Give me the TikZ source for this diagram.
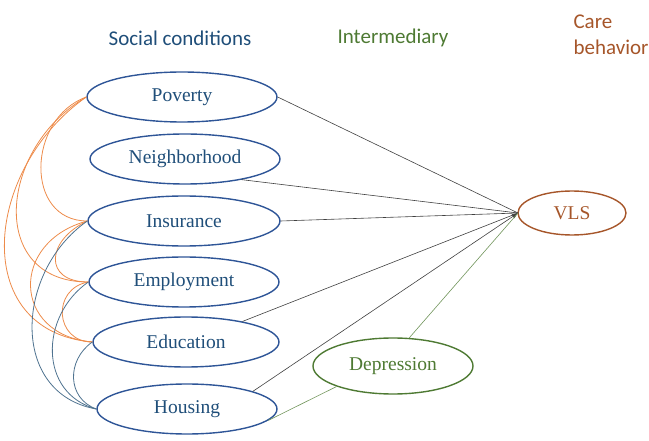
\documentclass[tikz,border=0pt]{standalone}
\usepackage{fontspec}
\usetikzlibrary{shapes.geometric,arrows.meta}
\setmainfont{Liberation Serif}
\newfontfamily\hdr{Carlito}
\definecolor{sblue}{HTML}{2E5597}
\definecolor{tblue}{HTML}{1F4E79}
\definecolor{sgreen}{HTML}{4E7A33}
\definecolor{sbrown}{HTML}{A6562A}
\definecolor{sorange}{HTML}{ED8B4A}
\definecolor{sgray}{HTML}{4F7390}
\begin{document}
\begin{tikzpicture}[x=1pt,y=-1pt,
  soc/.style={draw=sblue,line width=1.4pt,ellipse,minimum width=190pt,minimum height=50pt,inner sep=0pt,text=tblue,font=\fontsize{19.5}{23}\selectfont},
  hd/.style={font=\hdr\fontsize{21}{26}\selectfont,align=left},
  ln/.style={draw=black!75,line width=0.6pt},
  oc/.style={draw=sorange,line width=0.8pt},
  gc/.style={draw=sgray,line width=0.8pt}]
\useasboundingbox (0,0) rectangle (649,441);
\node[hd,text=tblue] (h1) at (180,38) {Social conditions};
\node[hd,text=sgreen] (h2) at (393,38) {Intermediary};
\node[hd,text=sbrown,anchor=west] (h3) at (570,35) {Care\\behavior};
\node[soc] (pov) at (182,97) {Poverty};
\node[soc] (nei) at (185,159) {Neighborhood};
\node[soc,minimum width=192pt] (ins) at (184,221) {Insurance};
\node[soc] (emp) at (184,282) {Employment};
\node[soc,minimum width=186pt] (edu) at (186,342) {Education};
\node[soc,minimum width=180pt] (hou) at (187,409) {Housing};
\node[draw=sbrown,line width=1.4pt,ellipse,minimum width=108pt,minimum height=44pt,text=sbrown,font=\fontsize{19.5}{23}\selectfont] (vls) at (572,213) {VLS};
\node[draw=sgreen,line width=1.4pt,ellipse,minimum width=160pt,minimum height=56pt,text=sgreen,font=\fontsize{19.5}{23}\selectfont] (dep) at (393,366) {Depression};
\coordinate (tip) at (518,213);
\draw[ln] (pov.east) -- (tip);
\draw[ln] (nei.-20) -- (tip);
\draw[ln] (ins.east) -- (tip);
\draw[ln] (edu.20) -- (tip);
\draw[ln,-{Latex[length=6pt,width=5pt]}] (hou.15) -- (tip);
\draw[draw=sgreen!80,line width=0.6pt] (hou.-8) -- (dep.200);
\draw[draw=sgreen!80,line width=0.6pt] (dep.60) -- (tip);
% orange correlations
\draw[oc] (pov.west) to[out=200,in=180,looseness=1.3] (ins.west);
\draw[oc] (pov.west) to[out=210,in=180,looseness=1.4] (emp.west);
\draw[oc] (pov.west) to[out=215,in=175,looseness=1.3] (edu.west);
\draw[oc] (ins.west) to[out=205,in=180,looseness=1.9] (emp.west);
\draw[oc] (ins.west) to[out=195,in=175,looseness=1.7] (edu.west);
\draw[oc] (emp.west) to[out=190,in=180,looseness=1.6] (edu.west);
% gray correlations
\draw[gc] (ins.west) to[out=215,in=170,looseness=1.2] (hou.west);
\draw[gc] (emp.west) to[out=215,in=165,looseness=1.2] (hou.west);
\draw[gc] (edu.west) to[out=215,in=160,looseness=1.2] (hou.west);
\end{tikzpicture}
\end{document}
